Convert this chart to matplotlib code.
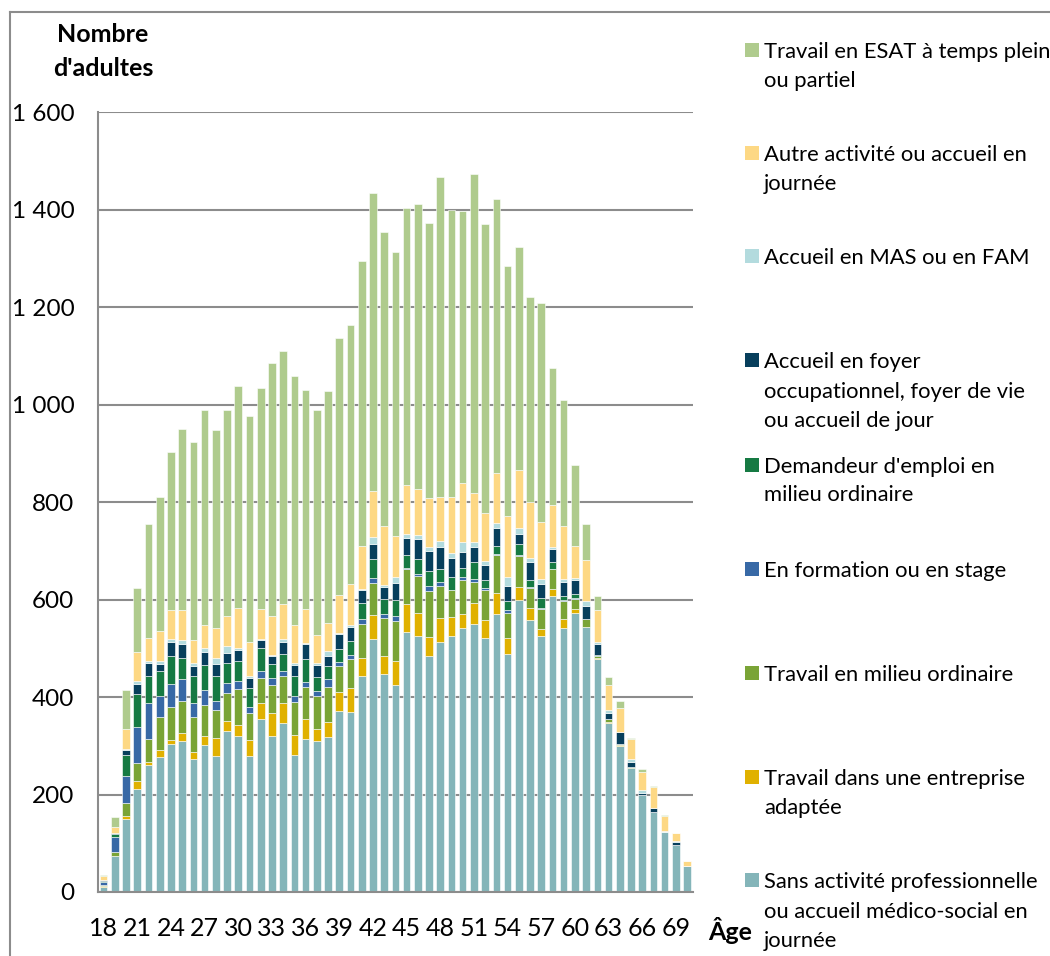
import matplotlib
matplotlib.use("Agg")
import matplotlib.pyplot as plt
from matplotlib.patches import Rectangle
from matplotlib.lines import Line2D
import numpy as np

ages = list(range(18, 71))
sans_activite = [10, 73, 150, 211, 261, 276, 304, 309, 272, 301, 280, 330, 321, 278, 355, 321, 347, 281, 313, 309,
                 317, 371, 370, 444, 518, 447, 424, 534, 526, 485, 513, 526, 542, 549, 522, 571, 489, 599, 558, 525,
                 608, 542, 573, 543, 477, 346, 300, 254, 198, 165, 123, 97, 54]
entreprise_adaptee = [2, 1, 5, 16, 6, 16, 8, 18, 16, 20, 35, 20, 22, 33, 33, 46, 41, 42, 41, 26,
                      31, 40, 48, 36, 50, 38, 50, 56, 46, 39, 50, 38, 29, 44, 35, 42, 32, 26, 25, 14,
                      13, 18, 8, 0, 3, 2, 1, 1, 0, 0, 0, 0, 0]
milieu_ordinaire = [2, 8, 27, 37, 46, 66, 68, 64, 70, 63, 59, 59, 74, 56, 51, 57, 55, 66, 66, 68,
                    72, 53, 60, 69, 65, 78, 82, 72, 77, 94, 65, 55, 70, 42, 63, 79, 52, 65, 40, 42,
                    42, 37, 21, 16, 5, 6, 3, 2, 1, 0, 1, 0, 0]
formation = [6, 31, 55, 74, 74, 44, 46, 45, 29, 31, 17, 20, 15, 12, 15, 14, 10, 14, 10, 10,
             16, 8, 8, 12, 12, 8, 10, 3, 3, 10, 8, 1, 5, 7, 3, 1, 6, 1, 2, 1,
             0, 1, 1, 0, 0, 0, 0, 0, 0, 0, 0, 0, 0]
demandeur = [3, 7, 44, 68, 57, 51, 59, 45, 56, 50, 53, 40, 42, 40, 47, 30, 36, 41, 47, 29,
             28, 27, 29, 31, 38, 31, 34, 27, 31, 31, 27, 27, 19, 34, 18, 16, 17, 22, 16, 22,
             14, 9, 9, 2, 1, 1, 0, 0, 0, 0, 0, 0, 0]
foyer = [2, 1, 10, 21, 26, 15, 27, 27, 21, 27, 24, 22, 23, 20, 16, 16, 24, 22, 31, 23,
         20, 31, 29, 27, 31, 24, 34, 34, 41, 40, 44, 39, 33, 32, 29, 38, 31, 22, 36, 27,
         26, 29, 27, 26, 23, 13, 24, 9, 5, 7, 0, 5, 0]
mas_fam = [0, 0, 3, 5, 3, 5, 7, 9, 5, 9, 12, 14, 4, 5, 3, 3, 6, 3, 3, 5,
           10, 2, 3, 3, 15, 3, 12, 9, 8, 9, 12, 9, 19, 10, 10, 9, 19, 12, 8, 12,
           5, 6, 5, 10, 3, 5, 1, 6, 6, 1, 2, 2, 0]
autre_activite = [7, 12, 41, 61, 49, 62, 59, 62, 48, 46, 61, 61, 81, 69, 61, 80, 72, 79, 69, 57,
                  57, 77, 84, 88, 94, 122, 85, 99, 95, 101, 91, 115, 121, 100, 98, 104, 125, 118, 115, 117,
                  85, 108, 65, 85, 66, 51, 48, 41, 36, 43, 29, 17, 9]
esat = [2, 20, 80, 130, 233, 275, 325, 370, 407, 442, 407, 423, 455, 463, 453, 519, 519, 511, 450, 462,
        477, 527, 533, 584, 610, 603, 581, 569, 585, 564, 657, 590, 559, 655, 593, 561, 513, 459, 420, 448,
        281, 260, 166, 73, 29, 18, 14, 3, 6, 1, 2, 1, 0]

series = [
    ("Sans activité professionnelle\nou accueil médico-social en\njournée", sans_activite, "#84b5b9"),
    ("Travail dans une entreprise\nadaptée", entreprise_adaptee, "#e0b100"),
    ("Travail en milieu ordinaire", milieu_ordinaire, "#7aa436"),
    ("En formation ou en stage", formation, "#3869a6"),
    ("Demandeur d'emploi en\nmilieu ordinaire", demandeur, "#167a43"),
    ("Accueil en foyer\noccupationnel, foyer de vie\nou accueil de jour", foyer, "#073f5c"),
    ("Accueil en MAS ou en FAM", mas_fam, "#b3dbde"),
    ("Autre activité ou accueil en\njournée", autre_activite, "#fdd884"),
    ("Travail en ESAT à temps plein\nou partiel", esat, "#afcb8d"),
]

plt.rcParams['font.family'] = ['Lato', 'DejaVu Sans']
W, H = 1050, 956
fig = plt.figure(figsize=(W / 100, H / 100), dpi=100)
ax = fig.add_axes([98 / W, 1 - 892 / H, (692.7 - 98) / W, (892 - 112) / H])

x = np.arange(len(ages))
bottom = np.zeros(len(ages))
for name, vals, col in series:
    v = np.array(vals, dtype=float)
    ax.bar(x, v, width=0.68, bottom=bottom, color=col, edgecolor='white', linewidth=0.4, zorder=3)
    bottom += v

ax.set_xlim(-0.5, len(ages) - 0.5)
ax.set_ylim(0, 1600)
ax.set_yticks(range(0, 1601, 200))
ax.set_yticklabels([f"{v:,}".replace(",", " ") for v in range(0, 1601, 200)], fontsize=17.5)
ax.set_xticks(x[::3])
ax.set_xticklabels([str(a) for a in ages[::3]], fontsize=18)
ax.tick_params(axis='y', length=0, pad=17)
ax.tick_params(axis='x', length=0, pad=18)
ax.grid(axis='y', color='#8c8c8c', linewidth=1.5, zorder=0)
for s in ['top', 'right']:
    ax.spines[s].set_visible(False)
for s in ['left', 'bottom']:
    ax.spines[s].set_color('#8c8c8c')
    ax.spines[s].set_linewidth(1.5)
    ax.spines[s].set_zorder(4)

# axis titles
fig.text(103 / W, 1 - 35 / H, "Nombre", ha='center', va='center', fontsize=18, fontweight='bold')
fig.text(103 / W, 1 - 69 / H, "d'adultes", ha='center', va='center', fontsize=18, fontweight='bold')
fig.text(730 / W, 1 - 930 / H, "Âge", ha='center', va='center', fontsize=18, fontweight='bold')

# outer chart border (left and top)
fig.add_artist(Line2D([10 / W, 10 / W], [0, 1 - 12 / H], transform=fig.transFigure, color='#8c8c8c', lw=1.5))
fig.add_artist(Line2D([10 / W, 1], [1 - 12 / H, 1 - 12 / H], transform=fig.transFigure, color='#8c8c8c', lw=1.5))

# legend, top to bottom
legend_baselines = {
    8: [58, 87],
    7: [161, 190],
    6: [264],
    5: [368, 398, 427],
    4: [473, 501],
    3: [577],
    2: [681],
    1: [785, 814],
    0: [888, 918, 947],
}
for idx, bases in legend_baselines.items():
    name, _, col = series[idx]
    lines = name.split("\n")
    b0 = bases[0]
    fig.add_artist(Rectangle((745 / W, 1 - (b0 - 1) / H), 14 / W, 14 / H, transform=fig.transFigure,
                             facecolor=col, edgecolor='none'))
    for ln, b in zip(lines, bases):
        fig.text(764 / W, 1 - b / H, ln, ha='left', va='baseline', fontsize=15.8)

fig.savefig("out.png", dpi=100)
